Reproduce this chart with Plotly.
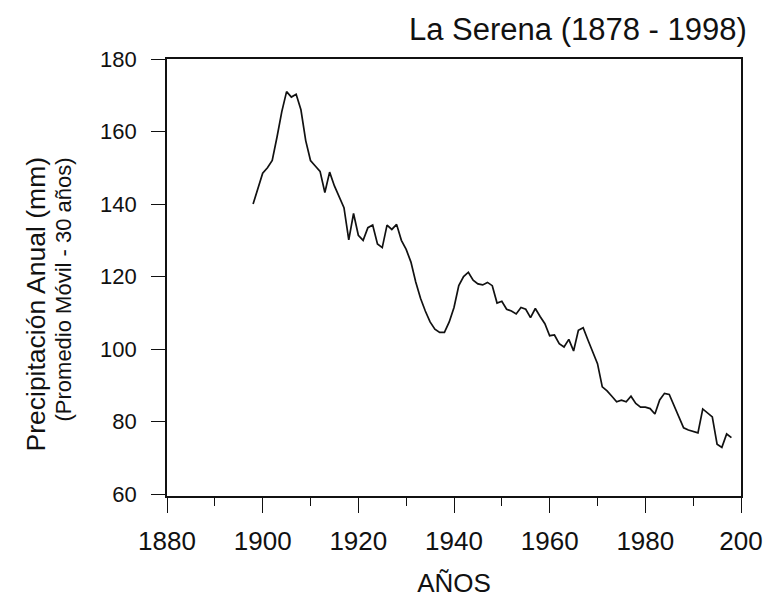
import plotly.graph_objects as go

years = list(range(1898, 1999))
precip = [
    140.0, 144.5, 148.5, 150.0, 152.0, 158.5, 165.5, 171.0, 169.5, 170.3,  # 1898-1907
    166.0, 157.5, 152.0, 150.5, 149.0, 143.2, 148.8, 145.0, 142.0, 139.0,  # 1908-1917
    130.1, 137.4, 131.4, 130.0, 133.5, 134.2, 129.0, 128.0, 134.2, 133.0,  # 1918-1927
    134.4, 130.0, 127.5, 124.0, 118.5, 114.0, 110.5, 107.5, 105.5, 104.6,  # 1928-1937
    104.6, 107.5, 111.5, 117.5, 120.0, 121.2, 119.0, 118.0, 117.7, 118.4,  # 1938-1947
    117.5, 112.7, 113.2, 111.0, 110.5, 109.7, 111.5, 111.0, 108.7, 111.2,  # 1948-1957
    109.0, 107.0, 103.7, 103.9, 101.5, 100.6, 102.7, 99.5, 105.2, 105.9,   # 1958-1967
    102.5, 99.0, 96.0, 89.6, 88.5, 87.0, 85.5, 85.9, 85.5, 87.0,           # 1968-1977
    85.0, 84.0, 84.0, 83.6, 82.1, 86.0, 87.8, 87.5, 84.5, 81.0,            # 1978-1987
    78.3, 77.7, 77.3, 76.9, 83.5, 82.3, 81.3, 73.8, 72.9, 76.6,            # 1988-1997
    75.6,                                                                  # 1998
]

x_ticks = [1880, 1900, 1920, 1940, 1960, 1980, 2000]
x_tick_labels = ["1880", "1900", "1920", "1940", "1960", "1980", "200"]
y_ticks = [60, 80, 100, 120, 140, 160, 180]

title_text = "La Serena (1878 - 1998)"
y_title_1 = "Precipitación Anual (mm)"
y_title_2 = "(Promedio Móvil - 30 años)"
x_title = "AÑOS"

FONT = "Liberation Sans, Arial, sans-serif"

fig = go.Figure()
fig.add_trace(go.Scatter(
    x=years, y=precip, mode="lines",
    line=dict(color="#111111", width=1.7),
    showlegend=False, hoverinfo="skip",
))

fig.update_layout(
    width=767, height=602,
    margin=dict(l=159, r=22, t=51, b=114),
    paper_bgcolor="white", plot_bgcolor="white",
    font=dict(family=FONT, color="#111111"),
    xaxis=dict(
        range=[1880, 2000], tickvals=x_ticks, ticktext=x_tick_labels,
        ticks="outside", ticklen=15, tickwidth=1.3, tickcolor="#111111",
        minor=dict(dtick=10, tick0=1880, ticks="outside", ticklen=8,
                   tickwidth=1.3, tickcolor="#111111", showgrid=False),
        showline=True, linecolor="#111111", linewidth=1.6, mirror=True,
        showgrid=False, zeroline=False,
        tickfont=dict(size=26, family=FONT, color="#111111"),
        ticklabelstandoff=6,
        title=dict(text=x_title, font=dict(size=26, family=FONT, color="#111111"),
                   standoff=19),
    ),
    yaxis=dict(
        range=[59.5, 180], tickvals=y_ticks,
        ticks="outside", ticklen=14, tickwidth=1.3, tickcolor="#111111",
        showline=True, linecolor="#111111", linewidth=1.6, mirror=True,
        showgrid=False, zeroline=False,
        tickfont=dict(size=22, family=FONT, color="#111111"),
        ticklabelstandoff=10,
    ),
    annotations=[
        dict(text=title_text, xref="paper", yref="paper", x=1.0, y=1.0,
             xanchor="right", yanchor="bottom", yshift=10, xshift=8, showarrow=False,
             font=dict(size=31, family=FONT, color="#111111")),
        dict(text=y_title_1, xref="paper", yref="paper", x=0, y=0.5,
             xshift=-132, yshift=-27, textangle=-90, showarrow=False,
             xanchor="center", yanchor="middle",
             font=dict(size=26.5, family=FONT, color="#111111")),
        dict(text=y_title_2, xref="paper", yref="paper", x=0, y=0.5,
             xshift=-104, yshift=-12, textangle=-90, showarrow=False,
             xanchor="center", yanchor="middle",
             font=dict(size=22, family=FONT, color="#111111")),
    ],
)

fig.write_html("out.html")
